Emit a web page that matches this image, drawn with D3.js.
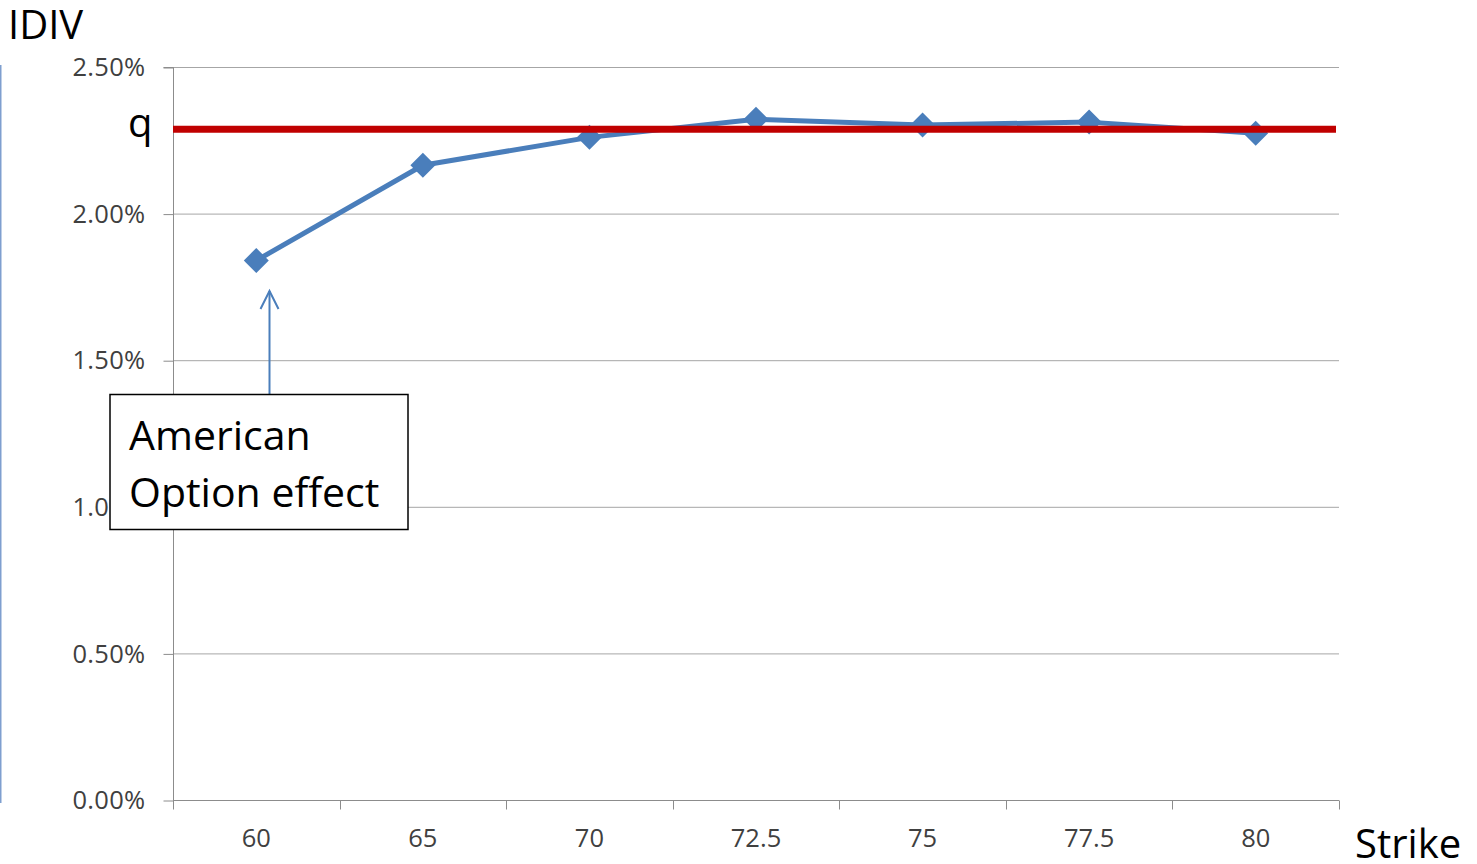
<!DOCTYPE html>
<html>
<head>
<meta charset="utf-8">
<script src="https://cdn.jsdelivr.net/npm/d3@7"></script>
<style>
  html, body { margin: 0; padding: 0; background: #fff; }
  svg { display: block; }
</style>
</head>
<body>
<svg id="chart" width="1477" height="864"></svg>
<script>
// Strike prices (category axis) and implied dividend yield (%)
const strikes = ["60", "65", "70", "72.5", "75", "77.5", "80"];
const idiv = [1.84, 2.165, 2.26, 2.322, 2.302, 2.312, 2.274];
// Reference dividend yield q (%)
const qLevel = 2.288;
const yTicks = [0, 0.5, 1.0, 1.5, 2.0, 2.5];
const yTickLabels = ["0.00%", "0.50%", "1.00%", "1.50%", "2.00%", "2.50%"];

(function () {
const svg = d3.select("#chart");
const font = "'Open Sans', 'Noto Sans', sans-serif";

const plotLeft = 173, plotRight = 1339, plotTop = 67, plotBottom = 800;

const x = d3.scaleBand().domain(strikes).range([plotLeft, plotRight]).padding(0);
const y = d3.scaleLinear().domain([0, 2.5]).range([plotBottom, plotTop]);

// thin blue rule along the left edge
svg.append("line")
  .attr("x1", 0.75).attr("x2", 0.75)
  .attr("y1", 65).attr("y2", 803)
  .attr("stroke", "#7f9fcf").attr("stroke-width", 1.5);

// horizontal gridlines
svg.append("g")
  .selectAll("line")
  .data(yTicks.filter(d => d > 0))
  .join("line")
  .attr("x1", plotLeft).attr("x2", plotRight)
  .attr("y1", d => y(d) + 0.5).attr("y2", d => y(d) + 0.5)
  .attr("stroke", "#a6a6a6").attr("stroke-width", 1);

// y axis
const yAxis = d3.axisLeft(y)
  .tickValues(yTicks)
  .tickSize(10)
  .tickPadding(18)
  .tickFormat((d, i) => yTickLabels[i]);
const gy = svg.append("g").attr("transform", `translate(${plotLeft + 0.5},0.5)`).call(yAxis);
gy.select(".domain").attr("stroke", "#8c8c8c").attr("d", `M-10,${plotTop}H0V${plotBottom}`);
gy.selectAll(".tick line").attr("stroke", "#8c8c8c");
gy.selectAll(".tick text")
  .attr("font-family", font).attr("font-size", 25.5).attr("fill", "#404040")
  .attr("letter-spacing", 0.3);

// x axis
const xAxis = d3.axisBottom(x).tickSize(0).tickPadding(28);
const gx = svg.append("g").attr("transform", `translate(0,${plotBottom + 0.5})`).call(xAxis);
gx.select(".domain").attr("stroke", "#8c8c8c").attr("d", `M${plotLeft},0H${plotRight}`);
gx.selectAll(".tick text")
  .attr("font-family", font).attr("font-size", 25.5).attr("fill", "#404040");
// boundary ticks between categories
const bounds = strikes.map(s => x(s)).concat([x(strikes[strikes.length - 1]) + x.bandwidth()]);
gx.append("g").selectAll("line")
  .data(bounds)
  .join("line")
  .attr("x1", d => Math.round(d) + 0.5).attr("x2", d => Math.round(d) + 0.5)
  .attr("y1", 0).attr("y2", 9)
  .attr("stroke", "#8c8c8c");

const cx = s => x(s) + x.bandwidth() / 2;

// IDIV series line
svg.append("path")
  .datum(strikes.map((s, i) => [cx(s), y(idiv[i])]))
  .attr("d", d3.line())
  .attr("fill", "none")
  .attr("stroke", "#4a7ebb")
  .attr("stroke-width", 5)
  .attr("stroke-linejoin", "round");

// diamond markers
svg.append("g").selectAll("path")
  .data(strikes.map((s, i) => ({ s, v: idiv[i] })))
  .join("path")
  .attr("transform", d => `translate(${cx(d.s)},${y(d.v)})`)
  .attr("d", "M0,-12.5L12.5,0L0,12.5L-12.5,0Z")
  .attr("fill", "#4a7ebb");

// q reference line
svg.append("line")
  .attr("x1", plotLeft).attr("x2", 1336)
  .attr("y1", y(qLevel)).attr("y2", y(qLevel))
  .attr("stroke", "#c00000").attr("stroke-width", 7);

svg.append("text")
  .attr("x", 128).attr("y", 137)
  .attr("font-family", font).attr("font-size", 40).attr("fill", "#000")
  .text("q");

// axis titles
svg.append("text")
  .attr("x", 8).attr("y", 39)
  .attr("font-family", font).attr("font-size", 40).attr("fill", "#000")
  .text("IDIV");
svg.append("text")
  .attr("x", 1355).attr("y", 858)
  .attr("font-family", font).attr("font-size", 40).attr("fill", "#000")
  .text("Strike");

// annotation arrow pointing at the 60 strike
const ax = 269.5;
svg.append("line")
  .attr("x1", ax).attr("x2", ax)
  .attr("y1", 394).attr("y2", 291)
  .attr("stroke", "#4a7ebb").attr("stroke-width", 2);
svg.append("path")
  .attr("d", `M${ax - 9},${309}L${ax},${291}L${ax + 9},${309}`)
  .attr("fill", "none")
  .attr("stroke", "#4a7ebb").attr("stroke-width", 2);

// annotation box
svg.append("rect")
  .attr("x", 110).attr("y", 394.5)
  .attr("width", 298).attr("height", 135)
  .attr("fill", "#fff").attr("stroke", "#000").attr("stroke-width", 1.5);
svg.append("text")
  .attr("x", 129).attr("y", 450)
  .attr("font-family", font).attr("font-size", 41).attr("fill", "#000")
  .text("American");
svg.append("text")
  .attr("x", 129).attr("y", 507)
  .attr("font-family", font).attr("font-size", 41).attr("fill", "#000")
  .text("Option effect");
})();
</script>
</body>
</html>
